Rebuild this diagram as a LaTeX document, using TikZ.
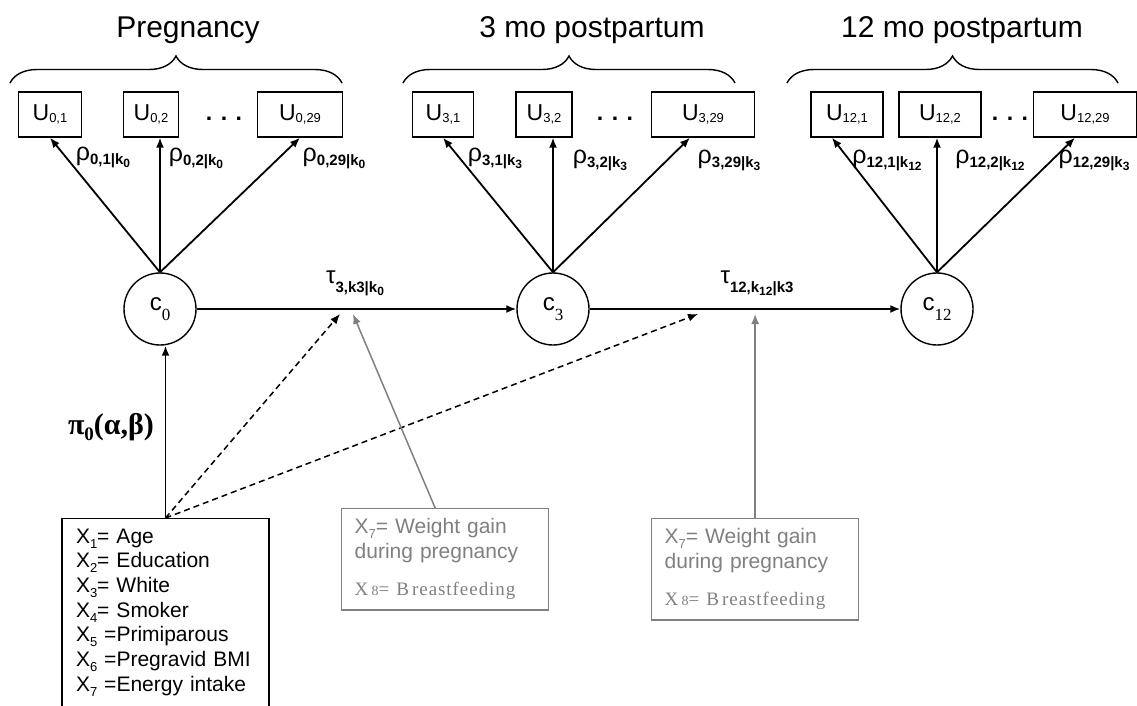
\documentclass[tikz,border=0pt]{standalone}
\usepackage{fontspec}
\setmainfont{Liberation Sans}
\newfontfamily\serif{Liberation Serif}
\newfontfamily\serifw[LetterSpace=5]{Liberation Serif}
\usetikzlibrary{arrows.meta,decorations.pathreplacing}
\definecolor{grey}{RGB}{128,128,128}
\newcommand\usub[1]{\raisebox{-2pt}{\fontsize{13}{13}\selectfont #1}}
\newcommand\rsub[1]{\raisebox{-4pt}{\fontsize{15}{15}\selectfont\bfseries #1}}
\newcommand\tsub[1]{\raisebox{-9pt}{\fontsize{15}{15}\selectfont\bfseries #1}}
\newcommand\ksub[1]{\raisebox{-3pt}{\fontsize{12}{12}\selectfont\bfseries #1}}
\newcommand\csub[1]{\raisebox{-10pt}{\serif\fontsize{17}{17}\selectfont #1}}
\newcommand\xsub[1]{\raisebox{-5pt}{\fontsize{13}{13}\selectfont #1}}
\newcommand\rh[2]{ρ\rsub{#1|k\ksub{#2}}}

\begin{document}
\begin{tikzpicture}[x=1pt,y=-1pt,line width=1.8pt,>={Latex[length=10pt,width=8pt]},
	title/.style={anchor=base,font=\fontsize{30}{30}\selectfont},
	curly/.style={decorate,decoration={brace,amplitude=27pt},line width=1.4pt},
	ubox/.style={draw,line width=1.4pt,minimum height=45pt,inner sep=0pt,font=\fontsize{23}{23}\selectfont},
	dots/.style={anchor=base,font=\bfseries\fontsize{23}{23}\selectfont},
	cnode/.style={circle,draw,line width=1.4pt,minimum size=72pt,inner sep=0pt,font=\fontsize{24}{24}\selectfont},
	rlab/.style={font=\fontsize{25}{25}\selectfont},
	tlab/.style={font=\fontsize{24}{24}\selectfont},
	xbox/.style={draw,line width=1.4pt,align=left,text width=179pt,inner xsep=14pt,inner ysep=10pt,font=\fontsize{21}{24.7}\selectfont},
	gbox/.style={draw=grey,text=grey,line width=1.3pt,align=left,text width=181pt,inner xsep=13pt,inner ysep=10pt,font=\fontsize{21}{25}\selectfont},
	grey arrow/.style={->,draw=grey,line width=1.5pt},
	dash arrow/.style={->,dash pattern=on 6pt off 4pt,line width=1.5pt}]
	\useasboundingbox (0,0) rectangle (1137,705);

	\node (tpreg) at (188,37) [title] {Pregnancy};
	\node (t3mo) at (592,37) [title] {3 mo postpartum};
	\node (t12mo) at (962,37) [title] {12 mo postpartum};
	\draw [curly] (10,83) -- (342,83);
	\draw [curly] (403,83) -- (735,83);
	\draw [curly] (787,83) -- (1118,83);

	\node (u01) at (50,114.5) [ubox,minimum width=63pt] {U\usub{0,1}};
	\node (u02) at (151,114.5) [ubox,minimum width=55pt] {U\usub{0,2}};
	\node (d0) at (224,120) [dots] {. . .};
	\node (u029) at (300,114.5) [ubox,minimum width=85pt] {U\usub{0,29}};
	\node (u31) at (443,114.5) [ubox,minimum width=61pt] {U\usub{3,1}};
	\node (u32) at (544,114.5) [ubox,minimum width=56pt] {U\usub{3,2}};
	\node (d3) at (615,120) [dots] {. . .};
	\node (u329) at (703,114.5) [ubox,minimum width=103pt] {U\usub{3,29}};
	\node (u121) at (847,114.5) [ubox,minimum width=72pt] {U\usub{12,1}};
	\node (u122) at (940,114.5) [ubox,minimum width=82pt] {U\usub{12,2}};
	\node (d12) at (1010,120) [dots] {. . .};
	\node (u1229) at (1085,114.5) [ubox,minimum width=103pt] {U\usub{12,29}};

	\node (c0) at (160,309) [cnode] {c\csub{0}};
	\node (c3) at (553,309) [cnode] {c\csub{3}};
	\node (c12) at (937,309) [cnode] {c\csub{12}};

	\draw [->] (c0.north) -- (u01.south);
	\draw [->] (c0.north) -- (c0.north |- u02.south);
	\draw [->] (c0.north) -- (u029.south);
	\draw [->] (c3.north) -- (u31.south);
	\draw [->] (c3.north) -- (c3.north |- u32.south);
	\draw [->] (c3.north) -- ([xshift=-13pt]u329.south);
	\draw [->] (c12.north) -- ([xshift=-15pt]u121.south);
	\draw [->] (c12.north) -- (c12.north |- u122.south);
	\draw [->] (c12.north) -- ([xshift=-10pt]u1229.south);

	\node (r01) at (103,157) [rlab] {\rh{0,1}{0}};
	\node (r02) at (196,158) [rlab] {\rh{0,2}{0}};
	\node (r029) at (334,158) [rlab] {\rh{0,29}{0}};
	\node (r31) at (495,158) [rlab] {\rh{3,1}{3}};
	\node (r32) at (600,160) [rlab] {\rh{3,2}{3}};
	\node (r329) at (729,160) [rlab] {\rh{3,29}{3}};
	\node (r121) at (887,160) [rlab] {\rh{12,1}{12}};
	\node (r122) at (990,160) [rlab] {\rh{12,2}{12}};
	\node (r1229) at (1094,160) [rlab] {\rh{12,29}{3}};

	\draw [->] (c0) -- (c3);
	\draw [->] (c3) -- (c12);
	\node (tau3) at (355,283) [tlab] {τ\tsub{3,k3|k\ksub{0}}};
	\node (tau12) at (757,283) [tlab] {τ\tsub{12,k\ksub{12}|k3}};

	\node (xbox) at (165.5,518) [xbox,anchor=north] {X\xsub{1}= Age\\X\xsub{2}= Education\\X\xsub{3}= White\\X\xsub{4}= Smoker\\X\xsub{5} =Primiparous\\X\xsub{6} =Pregravid BMI\\X\xsub{7} =Energy intake};
	\node (pi0) at (111,427) [font=\serif\bfseries\fontsize{30}{30}\selectfont] {π\raisebox{-6pt}{\fontsize{19}{19}\selectfont 0}(α,β)};
	\draw [->] (xbox.north) -- (xbox.north |- c0.south);

	\node (g1) at (341,508) [gbox,anchor=north west] {X\xsub{7}= Weight gain\\during pregnancy\\[12pt]{\serifw\fontsize{19}{19}\selectfont X\,{\fontsize{14}{14}\selectfont 8}= B\,reastfeeding}};
	\node (g2) at (651,518) [gbox,anchor=north west] {X\xsub{7}= Weight gain\\during pregnancy\\[12pt]{\serifw\fontsize{19}{19}\selectfont X\,{\fontsize{14}{14}\selectfont 8}= B\,reastfeeding}};

	\coordinate (t1) at (340,314);
	\coordinate (t2) at (698,314);
	\coordinate (g1h) at (353,314);
	\draw [dash arrow] (xbox.north) -- (t1);
	\draw [dash arrow] (xbox.north) -- (t2);
	\draw [grey arrow] ([xshift=-10pt]g1.north) -- (g1h);
	\draw [grey arrow] (g2.north) -- (g2.north |- t2);
\end{tikzpicture}
\end{document}
